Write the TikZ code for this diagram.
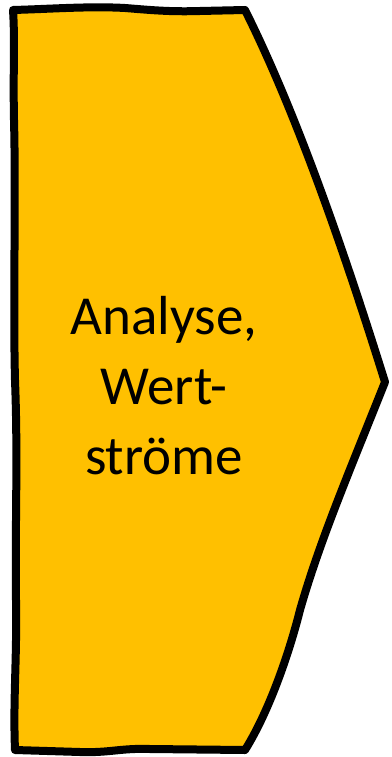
\documentclass[tikz,border=0pt]{standalone}
\usepackage{fontspec}
\setmainfont{Carlito}
\definecolor{gold}{HTML}{FFC000}
\tikzset{
  chevron/.style={draw=black, fill=gold, line width=8pt, line join=round},
  label/.style={align=center, font=\fontsize{55}{70}\selectfont, text=black, inner sep=0pt}
}
\begin{document}
\begin{tikzpicture}[x=1pt,y=-1pt]
\useasboundingbox (0,0) rectangle (391,757);
\path[chevron]
  (13,10) .. controls (50,9) and (90,6) .. (125,8)
  .. controls (150,10) and (170,12) .. (200,11)
  -- (245,10)
  .. controls (300,120) and (350,270) .. (385,382)
  .. controls (350,470) and (320,540) .. (300,610)
  .. controls (290,650) and (270,710) .. (245,750)
  -- (150,749)
  .. controls (120,748) and (110,753) .. (80,752)
  -- (15,750)
  .. controls (13,700) and (17,660) .. (16,600)
  .. controls (15,520) and (18,460) .. (15,380)
  .. controls (13,300) and (16,200) .. (14,120)
  .. controls (13,70) and (15,40) .. (13,10) -- cycle;
\node[label] (txt) at (164,386) {Analyse,\\Wert-\\ströme};
\end{tikzpicture}
\end{document}
